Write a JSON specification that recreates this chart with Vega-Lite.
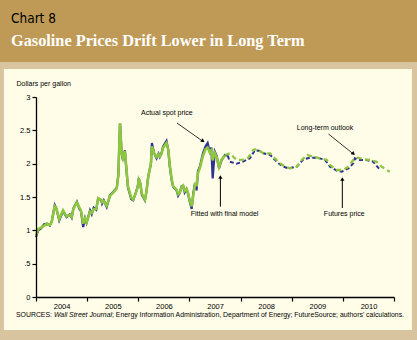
{
  "$schema": "https://vega.github.io/schema/vega-lite/v6.json",
  "width": 358,
  "height": 200,
  "autosize": {"type": "none"},
  "padding": {"left": 36, "top": 97, "right": 23, "bottom": 43},
  "background": "#BF9A56",
  "config": {"view": {"stroke": null}},
  "title": {
    "text": "Chart 8",
    "subtitle": "Gasoline Prices Drift Lower in Long Term",
    "anchor": "start",
    "frame": "group",
    "dx": -25,
    "offset": 13,
    "font": "DejaVu Sans Condensed, Liberation Sans, sans-serif",
    "fontSize": 13.5,
    "fontWeight": "normal",
    "color": "black",
    "subtitleFont": "Liberation Serif",
    "subtitleFontSize": 16.3,
    "subtitleFontWeight": "bold",
    "subtitleColor": "white",
    "subtitlePadding": 7
  },
  "datasets": {
    "prices": [
      {"date": "2004-01-01", "series": "spot", "value": 0.90},
      {"date": "2004-01-17", "series": "spot", "value": 1.00},
      {"date": "2004-02-06", "series": "spot", "value": 1.03},
      {"date": "2004-02-28", "series": "spot", "value": 1.09},
      {"date": "2004-03-20", "series": "spot", "value": 1.10},
      {"date": "2004-04-08", "series": "spot", "value": 1.07},
      {"date": "2004-04-22", "series": "spot", "value": 1.13},
      {"date": "2004-05-14", "series": "spot", "value": 1.38},
      {"date": "2004-05-25", "series": "spot", "value": 1.33},
      {"date": "2004-06-15", "series": "spot", "value": 1.15},
      {"date": "2004-07-12", "series": "spot", "value": 1.29},
      {"date": "2004-07-26", "series": "spot", "value": 1.24},
      {"date": "2004-08-07", "series": "spot", "value": 1.20},
      {"date": "2004-08-29", "series": "spot", "value": 1.24},
      {"date": "2004-09-12", "series": "spot", "value": 1.19},
      {"date": "2004-09-24", "series": "spot", "value": 1.33},
      {"date": "2004-10-19", "series": "spot", "value": 1.43},
      {"date": "2004-11-06", "series": "spot", "value": 1.32},
      {"date": "2004-11-17", "series": "spot", "value": 1.29},
      {"date": "2004-12-03", "series": "spot", "value": 1.05},
      {"date": "2004-12-16", "series": "spot", "value": 1.18},
      {"date": "2004-12-27", "series": "spot", "value": 1.11},
      {"date": "2005-01-21", "series": "spot", "value": 1.30},
      {"date": "2005-02-02", "series": "spot", "value": 1.24},
      {"date": "2005-02-16", "series": "spot", "value": 1.34},
      {"date": "2005-03-06", "series": "spot", "value": 1.31},
      {"date": "2005-03-20", "series": "spot", "value": 1.48},
      {"date": "2005-04-11", "series": "spot", "value": 1.45},
      {"date": "2005-04-17", "series": "spot", "value": 1.40},
      {"date": "2005-04-29", "series": "spot", "value": 1.45},
      {"date": "2005-05-20", "series": "spot", "value": 1.35},
      {"date": "2005-06-13", "series": "spot", "value": 1.53},
      {"date": "2005-07-07", "series": "spot", "value": 1.58},
      {"date": "2005-07-31", "series": "spot", "value": 1.64},
      {"date": "2005-08-11", "series": "spot", "value": 1.83},
      {"date": "2005-08-23", "series": "spot", "value": 2.60},
      {"date": "2005-09-04", "series": "spot", "value": 2.15},
      {"date": "2005-09-13", "series": "spot", "value": 2.05},
      {"date": "2005-09-27", "series": "spot", "value": 2.20},
      {"date": "2005-10-08", "series": "spot", "value": 1.90},
      {"date": "2005-10-19", "series": "spot", "value": 1.64},
      {"date": "2005-11-11", "series": "spot", "value": 1.47},
      {"date": "2005-11-25", "series": "spot", "value": 1.45},
      {"date": "2005-12-13", "series": "spot", "value": 1.56},
      {"date": "2005-12-28", "series": "spot", "value": 1.66},
      {"date": "2006-01-04", "series": "spot", "value": 1.78},
      {"date": "2006-01-15", "series": "spot", "value": 1.70},
      {"date": "2006-01-26", "series": "spot", "value": 1.53},
      {"date": "2006-02-17", "series": "spot", "value": 1.45},
      {"date": "2006-03-01", "series": "spot", "value": 1.60},
      {"date": "2006-03-12", "series": "spot", "value": 1.80},
      {"date": "2006-04-01", "series": "spot", "value": 2.00},
      {"date": "2006-04-08", "series": "spot", "value": 2.31},
      {"date": "2006-04-23", "series": "spot", "value": 2.16},
      {"date": "2006-05-11", "series": "spot", "value": 2.08},
      {"date": "2006-05-25", "series": "spot", "value": 2.15},
      {"date": "2006-06-03", "series": "spot", "value": 2.10},
      {"date": "2006-06-16", "series": "spot", "value": 2.16},
      {"date": "2006-06-27", "series": "spot", "value": 2.26},
      {"date": "2006-07-21", "series": "spot", "value": 2.34},
      {"date": "2006-08-03", "series": "spot", "value": 2.20},
      {"date": "2006-08-14", "series": "spot", "value": 1.95},
      {"date": "2006-08-27", "series": "spot", "value": 1.75},
      {"date": "2006-09-07", "series": "spot", "value": 1.65},
      {"date": "2006-10-01", "series": "spot", "value": 1.60},
      {"date": "2006-10-12", "series": "spot", "value": 1.52},
      {"date": "2006-10-23", "series": "spot", "value": 1.56},
      {"date": "2006-11-06", "series": "spot", "value": 1.66},
      {"date": "2006-11-17", "series": "spot", "value": 1.67},
      {"date": "2006-11-28", "series": "spot", "value": 1.57},
      {"date": "2006-12-11", "series": "spot", "value": 1.62},
      {"date": "2006-12-22", "series": "spot", "value": 1.55},
      {"date": "2007-01-04", "series": "spot", "value": 1.42},
      {"date": "2007-01-17", "series": "spot", "value": 1.32},
      {"date": "2007-01-28", "series": "spot", "value": 1.55},
      {"date": "2007-02-10", "series": "spot", "value": 1.71},
      {"date": "2007-02-21", "series": "spot", "value": 1.60},
      {"date": "2007-03-03", "series": "spot", "value": 1.89},
      {"date": "2007-03-17", "series": "spot", "value": 1.96},
      {"date": "2007-04-08", "series": "spot", "value": 2.16},
      {"date": "2007-04-26", "series": "spot", "value": 2.26},
      {"date": "2007-05-11", "series": "spot", "value": 2.31},
      {"date": "2007-05-26", "series": "spot", "value": 2.18},
      {"date": "2007-06-06", "series": "spot", "value": 2.24},
      {"date": "2007-06-16", "series": "spot", "value": 1.78},
      {"date": "2007-07-01", "series": "spot", "value": 2.18},
      {"date": "2007-07-14", "series": "spot", "value": 2.12},
      {"date": "2007-07-31", "series": "spot", "value": 1.93},
      {"date": "2007-08-18", "series": "spot", "value": 2.05},
      {"date": "2007-09-12", "series": "spot", "value": 2.13},
      {"date": "2007-10-02", "series": "spot", "value": 2.12},

      {"date": "2004-01-01", "series": "fitted", "value": 0.92},
      {"date": "2004-01-17", "series": "fitted", "value": 1.02},
      {"date": "2004-02-06", "series": "fitted", "value": 1.04},
      {"date": "2004-02-28", "series": "fitted", "value": 1.07},
      {"date": "2004-03-20", "series": "fitted", "value": 1.10},
      {"date": "2004-04-08", "series": "fitted", "value": 1.08},
      {"date": "2004-04-22", "series": "fitted", "value": 1.12},
      {"date": "2004-05-14", "series": "fitted", "value": 1.36},
      {"date": "2004-05-25", "series": "fitted", "value": 1.33},
      {"date": "2004-06-15", "series": "fitted", "value": 1.17},
      {"date": "2004-07-12", "series": "fitted", "value": 1.30},
      {"date": "2004-07-26", "series": "fitted", "value": 1.25},
      {"date": "2004-08-07", "series": "fitted", "value": 1.21},
      {"date": "2004-08-29", "series": "fitted", "value": 1.23},
      {"date": "2004-09-12", "series": "fitted", "value": 1.20},
      {"date": "2004-09-24", "series": "fitted", "value": 1.32},
      {"date": "2004-10-19", "series": "fitted", "value": 1.42},
      {"date": "2004-11-06", "series": "fitted", "value": 1.34},
      {"date": "2004-11-17", "series": "fitted", "value": 1.30},
      {"date": "2004-12-03", "series": "fitted", "value": 1.10},
      {"date": "2004-12-16", "series": "fitted", "value": 1.18},
      {"date": "2004-12-27", "series": "fitted", "value": 1.12},
      {"date": "2005-01-21", "series": "fitted", "value": 1.28},
      {"date": "2005-02-02", "series": "fitted", "value": 1.26},
      {"date": "2005-02-16", "series": "fitted", "value": 1.32},
      {"date": "2005-03-06", "series": "fitted", "value": 1.32},
      {"date": "2005-03-20", "series": "fitted", "value": 1.48},
      {"date": "2005-04-11", "series": "fitted", "value": 1.46},
      {"date": "2005-04-17", "series": "fitted", "value": 1.42},
      {"date": "2005-04-29", "series": "fitted", "value": 1.44},
      {"date": "2005-05-20", "series": "fitted", "value": 1.37},
      {"date": "2005-06-13", "series": "fitted", "value": 1.52},
      {"date": "2005-07-07", "series": "fitted", "value": 1.57},
      {"date": "2005-07-31", "series": "fitted", "value": 1.63},
      {"date": "2005-08-11", "series": "fitted", "value": 1.82},
      {"date": "2005-08-23", "series": "fitted", "value": 2.61},
      {"date": "2005-09-04", "series": "fitted", "value": 2.15},
      {"date": "2005-09-13", "series": "fitted", "value": 2.08},
      {"date": "2005-09-27", "series": "fitted", "value": 2.19},
      {"date": "2005-10-08", "series": "fitted", "value": 1.92},
      {"date": "2005-10-19", "series": "fitted", "value": 1.66},
      {"date": "2005-11-11", "series": "fitted", "value": 1.49},
      {"date": "2005-11-25", "series": "fitted", "value": 1.46},
      {"date": "2005-12-13", "series": "fitted", "value": 1.55},
      {"date": "2005-12-28", "series": "fitted", "value": 1.65},
      {"date": "2006-01-04", "series": "fitted", "value": 1.76},
      {"date": "2006-01-15", "series": "fitted", "value": 1.71},
      {"date": "2006-01-26", "series": "fitted", "value": 1.55},
      {"date": "2006-02-17", "series": "fitted", "value": 1.46},
      {"date": "2006-03-01", "series": "fitted", "value": 1.59},
      {"date": "2006-03-12", "series": "fitted", "value": 1.79},
      {"date": "2006-04-01", "series": "fitted", "value": 2.01},
      {"date": "2006-04-08", "series": "fitted", "value": 2.26},
      {"date": "2006-04-23", "series": "fitted", "value": 2.16},
      {"date": "2006-05-11", "series": "fitted", "value": 2.10},
      {"date": "2006-05-25", "series": "fitted", "value": 2.14},
      {"date": "2006-06-03", "series": "fitted", "value": 2.11},
      {"date": "2006-06-16", "series": "fitted", "value": 2.15},
      {"date": "2006-06-27", "series": "fitted", "value": 2.24},
      {"date": "2006-07-21", "series": "fitted", "value": 2.31},
      {"date": "2006-08-03", "series": "fitted", "value": 2.21},
      {"date": "2006-08-14", "series": "fitted", "value": 1.97},
      {"date": "2006-08-27", "series": "fitted", "value": 1.77},
      {"date": "2006-09-07", "series": "fitted", "value": 1.66},
      {"date": "2006-10-01", "series": "fitted", "value": 1.61},
      {"date": "2006-10-12", "series": "fitted", "value": 1.54},
      {"date": "2006-10-23", "series": "fitted", "value": 1.56},
      {"date": "2006-11-06", "series": "fitted", "value": 1.65},
      {"date": "2006-11-17", "series": "fitted", "value": 1.67},
      {"date": "2006-11-28", "series": "fitted", "value": 1.59},
      {"date": "2006-12-11", "series": "fitted", "value": 1.62},
      {"date": "2006-12-22", "series": "fitted", "value": 1.56},
      {"date": "2007-01-04", "series": "fitted", "value": 1.44},
      {"date": "2007-01-17", "series": "fitted", "value": 1.36},
      {"date": "2007-01-28", "series": "fitted", "value": 1.52},
      {"date": "2007-02-10", "series": "fitted", "value": 1.69},
      {"date": "2007-02-21", "series": "fitted", "value": 1.68},
      {"date": "2007-03-03", "series": "fitted", "value": 1.86},
      {"date": "2007-03-17", "series": "fitted", "value": 1.94},
      {"date": "2007-04-08", "series": "fitted", "value": 2.12},
      {"date": "2007-04-26", "series": "fitted", "value": 2.22},
      {"date": "2007-05-11", "series": "fitted", "value": 2.24},
      {"date": "2007-05-26", "series": "fitted", "value": 2.17},
      {"date": "2007-06-06", "series": "fitted", "value": 2.20},
      {"date": "2007-06-16", "series": "fitted", "value": 2.05},
      {"date": "2007-07-01", "series": "fitted", "value": 2.16},
      {"date": "2007-07-14", "series": "fitted", "value": 2.10},
      {"date": "2007-07-31", "series": "fitted", "value": 1.95},
      {"date": "2007-08-18", "series": "fitted", "value": 2.06},
      {"date": "2007-09-12", "series": "fitted", "value": 2.12},

      {"date": "2007-10-02", "series": "futures", "value": 2.12},
      {"date": "2007-10-16", "series": "futures", "value": 2.03},
      {"date": "2007-12-04", "series": "futures", "value": 2.00},
      {"date": "2008-01-19", "series": "futures", "value": 2.03},
      {"date": "2008-03-08", "series": "futures", "value": 2.08},
      {"date": "2008-04-12", "series": "futures", "value": 2.20},
      {"date": "2008-05-19", "series": "futures", "value": 2.19},
      {"date": "2008-06-12", "series": "futures", "value": 2.155},
      {"date": "2008-07-30", "series": "futures", "value": 2.13},
      {"date": "2008-08-23", "series": "futures", "value": 2.08},
      {"date": "2008-09-27", "series": "futures", "value": 2.005},
      {"date": "2008-11-01", "series": "futures", "value": 1.955},
      {"date": "2008-12-07", "series": "futures", "value": 1.93},
      {"date": "2009-02-06", "series": "futures", "value": 1.955},
      {"date": "2009-03-25", "series": "futures", "value": 2.065},
      {"date": "2009-05-12", "series": "futures", "value": 2.09},
      {"date": "2009-06-28", "series": "futures", "value": 2.09},
      {"date": "2009-08-25", "series": "futures", "value": 2.06},
      {"date": "2009-10-01", "series": "futures", "value": 1.955},
      {"date": "2009-11-17", "series": "futures", "value": 1.895},
      {"date": "2009-12-24", "series": "futures", "value": 1.88},
      {"date": "2010-02-10", "series": "futures", "value": 1.93},
      {"date": "2010-03-16", "series": "futures", "value": 2.005},
      {"date": "2010-03-28", "series": "futures", "value": 2.08},
      {"date": "2010-05-02", "series": "futures", "value": 2.055},
      {"date": "2010-06-19", "series": "futures", "value": 2.055},
      {"date": "2010-08-05", "series": "futures", "value": 2.03},
      {"date": "2010-09-24", "series": "futures", "value": 1.905},

      {"date": "2007-09-12", "series": "outlook", "value": 2.13},
      {"date": "2007-10-16", "series": "outlook", "value": 2.155},
      {"date": "2007-12-04", "series": "outlook", "value": 2.055},
      {"date": "2008-01-19", "series": "outlook", "value": 2.06},
      {"date": "2008-02-25", "series": "outlook", "value": 2.09},
      {"date": "2008-04-01", "series": "outlook", "value": 2.205},
      {"date": "2008-04-25", "series": "outlook", "value": 2.22},
      {"date": "2008-06-12", "series": "outlook", "value": 2.155},
      {"date": "2008-07-30", "series": "outlook", "value": 2.155},
      {"date": "2008-09-02", "series": "outlook", "value": 2.08},
      {"date": "2008-10-09", "series": "outlook", "value": 2.005},
      {"date": "2008-11-14", "series": "outlook", "value": 1.955},
      {"date": "2008-12-19", "series": "outlook", "value": 1.93},
      {"date": "2009-02-06", "series": "outlook", "value": 1.955},
      {"date": "2009-03-13", "series": "outlook", "value": 2.055},
      {"date": "2009-04-22", "series": "outlook", "value": 2.13},
      {"date": "2009-06-03", "series": "outlook", "value": 2.105},
      {"date": "2009-07-20", "series": "outlook", "value": 2.08},
      {"date": "2009-09-08", "series": "outlook", "value": 2.055},
      {"date": "2009-10-01", "series": "outlook", "value": 1.98},
      {"date": "2009-11-17", "series": "outlook", "value": 1.905},
      {"date": "2010-01-04", "series": "outlook", "value": 1.905},
      {"date": "2010-02-10", "series": "outlook", "value": 1.955},
      {"date": "2010-03-16", "series": "outlook", "value": 2.055},
      {"date": "2010-04-19", "series": "outlook", "value": 2.09},
      {"date": "2010-05-26", "series": "outlook", "value": 2.07},
      {"date": "2010-07-13", "series": "outlook", "value": 2.055},
      {"date": "2010-08-29", "series": "outlook", "value": 2.03},
      {"date": "2010-10-05", "series": "outlook", "value": 1.955},
      {"date": "2010-11-11", "series": "outlook", "value": 1.905},
      {"date": "2010-12-02", "series": "outlook", "value": 1.88}
    ]
  },
  "layer": [
    {
      "data": {"values": [{}]},
      "mark": {"type": "rect", "color": "#D9C4A0"},
      "encoding": {
        "x": {"datum": {"year": 2003, "month": 1, "date": 1}, "type": "temporal"},
        "x2": {"datum": {"year": 2012, "month": 1, "date": 1}},
        "y": {"datum": 3.525, "type": "quantitative"},
        "y2": {"datum": -1.5}
      }
    },
    {
      "data": {"values": [{}]},
      "mark": {"type": "rect", "color": "#FFFDE8"},
      "encoding": {
        "x": {"datum": {"year": 2003, "month": 5, "date": 17}, "type": "temporal"},
        "x2": {"datum": {"year": 2011, "month": 5, "date": 9}},
        "y": {"datum": 3.42, "type": "quantitative"},
        "y2": {"datum": -0.495}
      }
    },
    {
      "data": {"name": "prices"},
      "transform": [{"filter": "datum.series == 'spot'"}],
      "mark": {"type": "line", "color": "#2E3192", "strokeWidth": 2.2},
      "encoding": {
        "x": {
          "field": "date", "type": "temporal",
          "scale": {"domain": [{"year": 2004, "month": 1, "date": 1}, {"year": 2011, "month": 1, "date": 1}]},
          "axis": {
            "values": [
              {"year": 2004, "month": 1, "date": 1}, {"year": 2005, "month": 1, "date": 1},
              {"year": 2006, "month": 1, "date": 1}, {"year": 2007, "month": 1, "date": 1},
              {"year": 2008, "month": 1, "date": 1}, {"year": 2009, "month": 1, "date": 1},
              {"year": 2010, "month": 1, "date": 1}, {"year": 2011, "month": 1, "date": 1}
            ],
            "labelExpr": "year(datum.value) >= 2011 ? '' : timeFormat(datum.value, '%Y')",
            "labelOffset": 25.6,
            "labelFlush": false,
            "labelOverlap": false,
            "labelAlign": "center",
            "labelFont": "Liberation Sans",
            "labelFontSize": 7.5,
            "labelColor": "black",
            "labelPadding": 1,
            "tickSize": 4,
            "tickColor": "black",
            "tickWidth": 1.2,
            "domainColor": "black",
            "domainWidth": 1.3,
            "grid": false,
            "title": null,
            "zindex": 1
          }
        },
        "y": {
          "field": "value", "type": "quantitative",
          "scale": {"domain": [0, 3], "nice": false, "zero": false},
          "axis": {
            "values": [0, 0.5, 1, 1.5, 2, 2.5, 3],
            "tickCount": 7,
            "labelOverlap": false,
            "labelExpr": "datum.value == 0.5 ? '.5' : format(datum.value, '~g')",
            "labelFont": "Liberation Sans",
            "labelFontSize": 7.5,
            "labelColor": "black",
            "labelPadding": 2,
            "tickSize": 4,
            "tickColor": "black",
            "tickWidth": 1.2,
            "domainColor": "black",
            "domainWidth": 1.3,
            "grid": false,
            "title": "Dollars per gallon",
            "titleAngle": 0,
            "titleAlign": "left",
            "titleBaseline": "middle",
            "titleX": -20,
            "titleY": -14,
            "titleFont": "Liberation Sans",
            "titleFontSize": 7,
            "titleFontWeight": "normal",
            "titleColor": "black",
            "zindex": 1
          }
        }
      }
    },
    {
      "data": {"name": "prices"},
      "transform": [{"filter": "datum.series == 'fitted'"}],
      "mark": {"type": "line", "color": "#8DC63F", "strokeWidth": 2.6},
      "encoding": {
        "x": {"field": "date", "type": "temporal"},
        "y": {"field": "value", "type": "quantitative"}
      }
    },
    {
      "data": {"name": "prices"},
      "transform": [{"filter": "datum.series == 'futures'"}],
      "mark": {"type": "line", "color": "#2E3192", "strokeWidth": 2, "strokeDash": [4, 2.5]},
      "encoding": {
        "x": {"field": "date", "type": "temporal"},
        "y": {"field": "value", "type": "quantitative"}
      }
    },
    {
      "data": {"name": "prices"},
      "transform": [{"filter": "datum.series == 'outlook'"}],
      "mark": {"type": "line", "color": "#8DC63F", "strokeWidth": 2.3, "strokeDash": [5, 3.5]},
      "encoding": {
        "x": {"field": "date", "type": "temporal"},
        "y": {"field": "value", "type": "quantitative"}
      }
    },
    {
      "data": {"values": [{}]},
      "mark": {"type": "text", "align": "left", "baseline": "middle", "font": "Liberation Sans", "fontSize": 7, "color": "black"},
      "encoding": {
        "x": {"datum": {"year": 2006, "month": 1, "date": 20}, "type": "temporal"},
        "y": {"datum": 2.76, "type": "quantitative"},
        "text": {"value": "Actual spot price"}
      }
    },
    {
      "data": {"values": [{}]},
      "mark": {"type": "text", "align": "left", "baseline": "middle", "font": "Liberation Sans", "fontSize": 7, "color": "black"},
      "encoding": {
        "x": {"datum": {"year": 2007, "month": 1, "date": 10}, "type": "temporal"},
        "y": {"datum": 1.245, "type": "quantitative"},
        "text": {"value": "Fitted with final model"}
      }
    },
    {
      "data": {"values": [{}]},
      "mark": {"type": "text", "align": "left", "baseline": "middle", "font": "Liberation Sans", "fontSize": 7, "color": "black"},
      "encoding": {
        "x": {"datum": {"year": 2009, "month": 2, "date": 6}, "type": "temporal"},
        "y": {"datum": 2.53, "type": "quantitative"},
        "text": {"value": "Long-term outlook"}
      }
    },
    {
      "data": {"values": [{}]},
      "mark": {"type": "text", "align": "left", "baseline": "middle", "font": "Liberation Sans", "fontSize": 7, "color": "black"},
      "encoding": {
        "x": {"datum": {"year": 2009, "month": 8, "date": 18}, "type": "temporal"},
        "y": {"datum": 1.24, "type": "quantitative"},
        "text": {"value": "Futures price"}
      }
    },
    {
      "data": {"values": [{}]},
      "mark": {"type": "rule", "color": "black", "strokeWidth": 0.8},
      "encoding": {
        "x": {"datum": {"year": 2006, "month": 10, "date": 4}, "type": "temporal"},
        "x2": {"datum": {"year": 2007, "month": 4, "date": 10}},
        "y": {"datum": 2.61, "type": "quantitative"},
        "y2": {"datum": 2.33}
      }
    },
    {
      "data": {"values": [{}]},
      "mark": {"type": "point", "shape": "triangle", "filled": true, "color": "black", "size": 18, "angle": 125, "opacity": 1},
      "encoding": {
        "x": {"datum": {"year": 2007, "month": 4, "date": 4}, "type": "temporal"},
        "y": {"datum": 2.345, "type": "quantitative"}
      }
    },
    {
      "data": {"values": [{}]},
      "mark": {"type": "rule", "color": "black", "strokeWidth": 1},
      "encoding": {
        "x": {"datum": {"year": 2007, "month": 8, "date": 10}, "type": "temporal"},
        "y": {"datum": 1.355, "type": "quantitative"},
        "y2": {"datum": 1.8}
      }
    },
    {
      "data": {"values": [{}]},
      "mark": {"type": "point", "shape": "triangle-up", "filled": true, "color": "black", "size": 18, "opacity": 1},
      "encoding": {
        "x": {"datum": {"year": 2007, "month": 8, "date": 10}, "type": "temporal"},
        "y": {"datum": 1.8, "type": "quantitative"}
      }
    },
    {
      "data": {"values": [{}]},
      "mark": {"type": "rule", "color": "black", "strokeWidth": 0.8},
      "encoding": {
        "x": {"datum": {"year": 2009, "month": 9, "date": 20}, "type": "temporal"},
        "x2": {"datum": {"year": 2010, "month": 3, "date": 20}},
        "y": {"datum": 2.445, "type": "quantitative"},
        "y2": {"datum": 2.14}
      }
    },
    {
      "data": {"values": [{}]},
      "mark": {"type": "point", "shape": "triangle", "filled": true, "color": "black", "size": 18, "angle": 129, "opacity": 1},
      "encoding": {
        "x": {"datum": {"year": 2010, "month": 3, "date": 14}, "type": "temporal"},
        "y": {"datum": 2.155, "type": "quantitative"}
      }
    },
    {
      "data": {"values": [{}]},
      "mark": {"type": "rule", "color": "black", "strokeWidth": 1},
      "encoding": {
        "x": {"datum": {"year": 2009, "month": 12, "date": 28}, "type": "temporal"},
        "y": {"datum": 1.335, "type": "quantitative"},
        "y2": {"datum": 1.77}
      }
    },
    {
      "data": {"values": [{}]},
      "mark": {"type": "point", "shape": "triangle-up", "filled": true, "color": "black", "size": 18, "opacity": 1},
      "encoding": {
        "x": {"datum": {"year": 2009, "month": 12, "date": 28}, "type": "temporal"},
        "y": {"datum": 1.77, "type": "quantitative"}
      }
    },
    {
      "data": {"values": [{}]},
      "mark": {"type": "text", "align": "left", "baseline": "middle", "font": "Liberation Sans", "fontSize": 6.9, "color": "black"},
      "encoding": {
        "x": {"datum": {"year": 2003, "month": 8, "date": 11}, "type": "temporal"},
        "y": {"datum": -0.27, "type": "quantitative"},
        "text": {"value": "SOURCES:"}
      }
    },
    {
      "data": {"values": [{}]},
      "mark": {"type": "text", "align": "left", "baseline": "middle", "font": "Liberation Sans", "fontSize": 6.9, "fontStyle": "italic", "color": "black"},
      "encoding": {
        "x": {"datum": {"year": 2004, "month": 5, "date": 8}, "type": "temporal"},
        "y": {"datum": -0.27, "type": "quantitative"},
        "text": {"value": "Wall Street Journal"}
      }
    },
    {
      "data": {"values": [{}]},
      "mark": {"type": "text", "align": "left", "baseline": "middle", "font": "Liberation Sans", "fontSize": 6.9, "color": "black"},
      "encoding": {
        "x": {"datum": {"year": 2005, "month": 6, "date": 27}, "type": "temporal"},
        "y": {"datum": -0.27, "type": "quantitative"},
        "text": {"value": "; Energy Information Administration, Department of Energy; FutureSource; authors' calculations."}
      }
    }
  ]
}
